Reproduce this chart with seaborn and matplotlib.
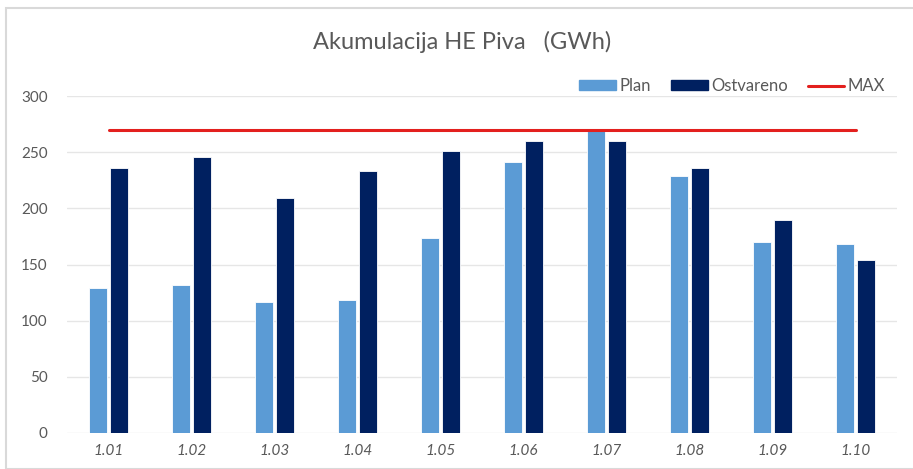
import pandas as pd
import matplotlib
matplotlib.use("Agg")
import matplotlib.pyplot as plt
import seaborn as sns
from matplotlib.patches import Rectangle
from matplotlib.lines import Line2D
from matplotlib.patches import Patch

# ---------------------------------------------------------
# DATA
# ---------------------------------------------------------
dates = ["1.01", "1.02", "1.03", "1.04", "1.05", "1.06", "1.07", "1.08", "1.09", "1.10"]
plan = [129, 132, 117, 118, 174, 241, 270, 229, 170, 168]
ostvareno = [236, 246, 209, 233, 251, 260, 260, 236, 190, 154]
max_level = 270

df = pd.DataFrame({
    "Datum": dates * 2,
    "Vrijednost": plan + ostvareno,
    "Serija": ["Plan"] * len(dates) + ["Ostvareno"] * len(dates),
})

# ---------------------------------------------------------
# STYLE
# ---------------------------------------------------------
sns.set_style("white")
plt.rcParams["font.family"] = ["Lato", "DejaVu Sans"]
grey = "#595959"
colors = {"Plan": "#5B9BD5", "Ostvareno": "#002060"}

fig = plt.figure(figsize=(9.13, 4.69), dpi=100)
ax = fig.add_axes([67 / 913, 1 - 433 / 469, (897 - 67) / 913, (433 - 96) / 469])

sns.barplot(data=df, x="Datum", y="Vrijednost", hue="Serija", palette=colors,
            saturation=1, width=0.5, gap=0.1, edgecolor="white", linewidth=0.6,
            ax=ax, legend=False)

# MAX line spans from first to last category
ax.plot([0, len(dates) - 1], [max_level, max_level], color="#E3201E", lw=2.2, zorder=5)

ax.set_ylim(0, 300)
ax.set_xlim(-0.5, len(dates) - 0.5)
ax.set_yticks(range(0, 301, 50))
ax.yaxis.grid(True, color="#E6E6E6", lw=1)
ax.set_axisbelow(True)
for s in ax.spines.values():
    s.set_visible(False)
ax.tick_params(axis="both", length=0, colors=grey, labelsize=11)
ax.tick_params(axis="y", pad=14)
ax.tick_params(axis="x", pad=8)
for lbl in ax.get_xticklabels():
    lbl.set_fontstyle("italic")
ax.set_xlabel("")
ax.set_ylabel("")

fig.text(462 / 913, 1 - 42 / 469, "Akumulacija HE Piva   (GWh)", ha="center", va="center",
         fontsize=17, color=grey)

handles = [Patch(color=colors["Plan"], label="Plan"),
           Patch(color=colors["Ostvareno"], label="Ostvareno"),
           Line2D([0], [0], color="#E3201E", lw=2.2, label="MAX")]
leg = fig.legend(handles=handles, loc="center right", bbox_to_anchor=(900 / 913, 1 - 86 / 469),
                 ncol=3, frameon=False, fontsize=12, handlelength=2.2, handleheight=0.5,
                 handletextpad=0.2, columnspacing=1.2)
for t in leg.get_texts():
    t.set_color(grey)

# outer chart border
fig.patches.append(Rectangle((6 / 913, 0), 1, 1 - 8 / 469, transform=fig.transFigure,
                             fill=False, edgecolor="#D9D9D9", lw=1.5))

fig.savefig("out.png", dpi=100)
